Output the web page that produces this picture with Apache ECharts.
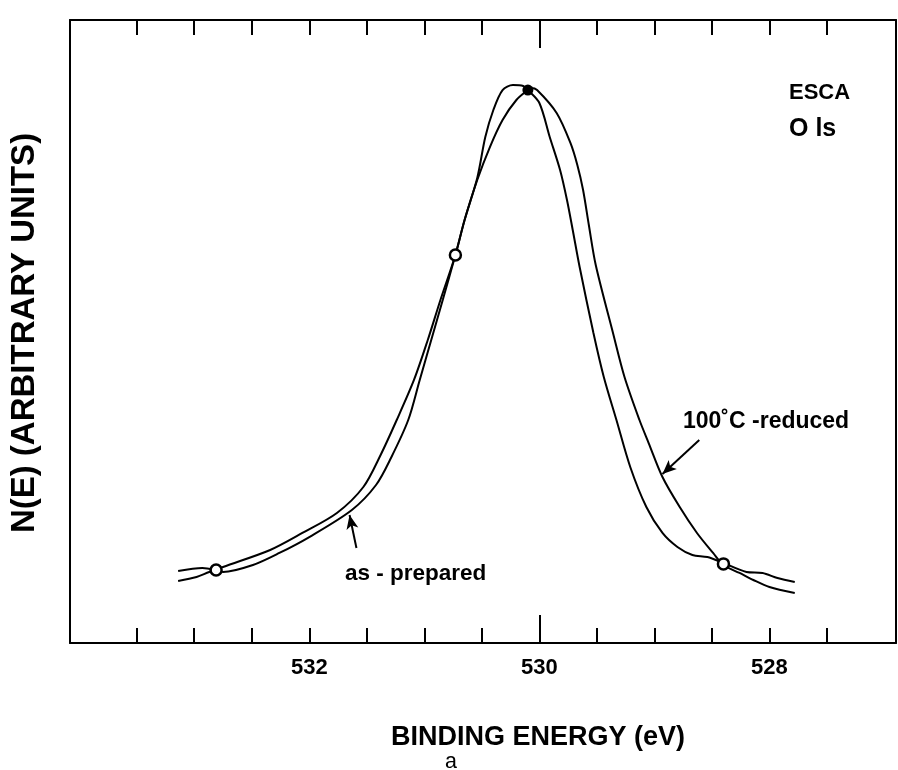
<!DOCTYPE html>
<html>
<head>
<meta charset="utf-8">
<script src="https://cdn.jsdelivr.net/npm/echarts@6/dist/echarts.min.js"></script>
<style>
html,body{margin:0;padding:0;background:#fff;}
#chart{width:898px;height:770px;}
</style>
</head>
<body>
<div id="chart"></div>
<script>
// Binding energy (eV) and N(E) (arbitrary units, 0-100)
const asPreparedBE = [533.14, 532.93, 532.81, 532.75, 532.49, 532.26, 532.00, 531.63, 531.42, 531.29, 531.14, 531.04, 530.94, 530.84, 530.73, 530.65, 530.54, 530.47, 530.40, 530.32, 530.23, 530.14, 530.10, 530.00, 529.91, 529.82, 529.76, 529.71, 529.65, 529.53, 529.44, 529.33, 529.21, 529.07, 528.93, 528.80, 528.67, 528.54, 528.40, 528.20, 528.06, 527.93, 527.78];
const asPreparedN  = [11.56, 12.04, 11.72, 11.40, 12.52, 14.45, 17.01, 21.35, 25.36, 29.70, 35.79, 42.22, 48.64, 55.06, 62.28, 67.90, 74.64, 81.22, 85.55, 88.76, 89.57, 89.41, 88.76, 86.68, 81.22, 75.92, 71.11, 66.29, 60.35, 49.76, 42.70, 35.79, 28.25, 21.83, 17.66, 15.41, 14.13, 13.80, 12.84, 11.40, 11.24, 10.43, 9.79];

const reducedBE = [533.14, 532.98, 532.87, 532.81, 532.75, 532.34, 532.06, 531.76, 531.53, 531.38, 531.24, 531.09, 530.97, 530.86, 530.73, 530.65, 530.54, 530.43, 530.32, 530.20, 530.10, 530.07, 530.02, 529.85, 529.73, 529.67, 529.62, 529.57, 529.51, 529.36, 529.26, 529.13, 529.05, 528.93, 528.78, 528.63, 528.49, 528.40, 528.26, 528.14, 528.00, 527.78];
const reducedN  = [9.95, 10.59, 11.40, 11.72, 12.20, 14.93, 17.66, 20.87, 25.04, 30.18, 35.79, 42.22, 48.64, 55.06, 62.28, 67.90, 74.32, 79.61, 83.95, 87.16, 88.76, 89.09, 88.76, 85.07, 80.26, 76.73, 72.71, 67.09, 60.67, 49.76, 42.70, 35.79, 32.10, 26.65, 21.83, 17.66, 14.45, 12.52, 11.24, 10.11, 8.99, 8.03];

// crossing markers (open circles) and peak marker (filled dot)
const openMarkBE = [532.81, 530.73, 528.40];
const openMarkN  = [11.72, 62.28, 12.70];
const peakMarkBE = [530.10];
const peakMarkN  = [88.76];

// axis ticks / labels
const minorTicks = [533.5, 533, 532.5, 532, 531.5, 531, 530.5, 530, 529.5, 529, 528.5, 528, 527.5];
const majorTicks = [530];
const tickLabels = [532, 530, 528];

// annotation arrows [tailBE, tailN, tipBE, tipN]
const arrowAsPrepared = [531.59, 15.25, 531.65, 20.55];
const arrowReduced    = [528.61, 32.58, 528.93, 27.13];

const zip = (a, b) => a.map((v, i) => [v, b[i]]);
const FONT = '"Liberation Sans", Arial, Helvetica, sans-serif';
const XMIN = 526.9, XMAX = 534.08;

function xAx(pos, ticks, len, showLine, labels) {
  return {
    type: 'value', position: pos, min: XMIN, max: XMAX, inverse: true,
    axisLine: { show: showLine, lineStyle: { color: '#000', width: 2 } },
    axisTick: { show: true, inside: true, length: len, customValues: ticks, lineStyle: { color: '#000', width: 2 } },
    axisLabel: labels ? { show: true, customValues: labels, margin: 14, color: '#000', fontFamily: FONT, fontWeight: 'bold', fontSize: 22 } : { show: false },
    splitLine: { show: false }
  };
}

const arrowLine = (a) => ({
  type: 'line', data: [], silent: true, xAxisIndex: 0, yAxisIndex: 0,
  markLine: {
    silent: true, animation: false,
    symbol: ['none', 'arrow'], symbolSize: [9, 14],
    lineStyle: { color: '#000', width: 2, type: 'solid' },
    label: { show: false },
    data: [[{ coord: [a[0], a[1]] }, { coord: [a[2], a[3]] }]]
  }
});

const chart = echarts.init(document.getElementById('chart'), null, { renderer: 'canvas' });
chart.setOption({
  animation: false,
  backgroundColor: '#fff',
  grid: { left: 70, right: 2, top: 20, bottom: 127, containLabel: false },
  xAxis: [
    xAx('bottom', minorTicks, 15, true, tickLabels),
    xAx('bottom', majorTicks, 28, false, null),
    xAx('top', minorTicks, 15, true, null),
    xAx('top', majorTicks, 28, false, null)
  ],
  yAxis: [
    { type: 'value', position: 'left', min: 0, max: 100,
      axisLine: { show: true, lineStyle: { color: '#000', width: 2 } },
      axisTick: { show: false }, axisLabel: { show: false }, splitLine: { show: false } },
    { type: 'value', position: 'right', min: 0, max: 100,
      axisLine: { show: true, lineStyle: { color: '#000', width: 2 } },
      axisTick: { show: false }, axisLabel: { show: false }, splitLine: { show: false } }
  ],
  series: [
    { name: 'as - prepared', type: 'line', data: zip(asPreparedBE, asPreparedN), showSymbol: false, smooth: 0.3,
      lineStyle: { color: '#000', width: 2 }, z: 3 },
    { name: '100˚C -reduced', type: 'line', data: zip(reducedBE, reducedN), showSymbol: false, smooth: 0.3,
      lineStyle: { color: '#000', width: 2 }, z: 3 },
    { type: 'scatter', data: zip(openMarkBE, openMarkN), symbol: 'circle', symbolSize: 11,
      itemStyle: { color: '#fff', borderColor: '#000', borderWidth: 2.5, opacity: 1 }, z: 5 },
    { type: 'scatter', data: zip(peakMarkBE, peakMarkN), symbol: 'circle', symbolSize: 11,
      itemStyle: { color: '#000', opacity: 1 }, z: 5 },
    arrowLine(arrowAsPrepared),
    arrowLine(arrowReduced)
  ],
  graphic: [
    { type: 'text', x: 789, y: 93, style: { text: 'ESCA', fontFamily: FONT, fontWeight: 'bold', fontSize: 22, fill: '#000', verticalAlign: 'middle', align: 'left' } },
    { type: 'text', x: 789, y: 129, style: { text: 'O ls', fontFamily: FONT, fontWeight: 'bold', fontSize: 25, fill: '#000', verticalAlign: 'middle', align: 'left' } },
    { type: 'text', x: 683, y: 422, style: { text: '100˚C -reduced', fontFamily: FONT, fontWeight: 'bold', fontSize: 23, fill: '#000', verticalAlign: 'middle', align: 'left' } },
    { type: 'text', x: 345, y: 574, style: { text: 'as - prepared', fontFamily: FONT, fontWeight: 'bold', fontSize: 22.5, fill: '#000', verticalAlign: 'middle', align: 'left' } },
    { type: 'text', x: 538, y: 738, style: { text: 'BINDING ENERGY (eV)', fontFamily: FONT, fontWeight: 'bold', fontSize: 27, fill: '#000', verticalAlign: 'middle', align: 'center' } },
    { type: 'text', x: 451, y: 762, style: { text: 'a', fontFamily: '"Liberation Mono", "DejaVu Sans Mono", monospace', fontSize: 22, fill: '#000', verticalAlign: 'middle', align: 'center' } },
    { type: 'text', x: 25, y: 333, rotation: Math.PI / 2, style: { text: 'N(E) (ARBITRARY UNITS)', fontFamily: FONT, fontWeight: 'bold', fontSize: 33, fill: '#000', verticalAlign: 'middle', align: 'center' } }
  ]
});
</script>
</body>
</html>
